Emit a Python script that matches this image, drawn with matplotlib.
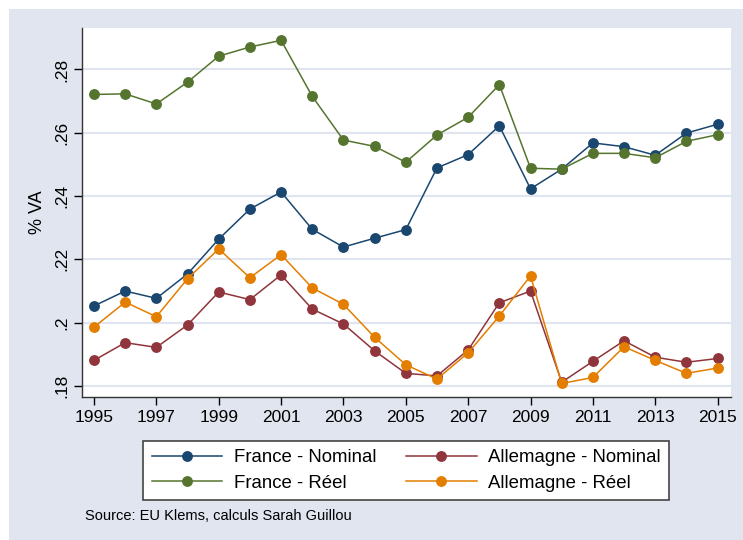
import matplotlib
matplotlib.use("Agg")
import matplotlib.pyplot as plt
from matplotlib.patches import Rectangle

plt.rcParams['font.family'] = ['Liberation Sans', 'DejaVu Sans']

years = list(range(1995, 2016))
france_nominal = [0.2053, 0.2100, 0.2077, 0.2154, 0.2264, 0.2359, 0.2413, 0.2295, 0.2239, 0.2267,
                  0.2294, 0.2489, 0.2531, 0.2622, 0.2423, 0.2485, 0.2568, 0.2556, 0.2529, 0.2599, 0.2627]
france_reel = [0.2721, 0.2723, 0.2691, 0.2760, 0.2842, 0.2871, 0.2892, 0.2715, 0.2577, 0.2557,
               0.2507, 0.2593, 0.2649, 0.2752, 0.2488, 0.2485, 0.2535, 0.2535, 0.2521, 0.2573, 0.2594]
allemagne_nominal = [0.1881, 0.1937, 0.1922, 0.1993, 0.2097, 0.2073, 0.2151, 0.2043, 0.1996, 0.1911,
                     0.1840, 0.1832, 0.1914, 0.2063, 0.2100, 0.1812, 0.1878, 0.1943, 0.1891, 0.1875, 0.1887]
allemagne_reel = [0.1986, 0.2065, 0.2019, 0.2139, 0.2233, 0.2142, 0.2215, 0.2110, 0.2058, 0.1954,
                  0.1867, 0.1822, 0.1905, 0.2021, 0.2148, 0.1808, 0.1827, 0.1924, 0.1881, 0.1840, 0.1857]

yticks = [0.18, 0.20, 0.22, 0.24, 0.26, 0.28]
ytick_labels = [".18", ".2", ".22", ".24", ".26", ".28"]
xticks = list(range(1995, 2016, 2))

W, H = 743, 540
fig = plt.figure(figsize=(W / 100, H / 100), dpi=100)
fig.patch.set_facecolor('white')
# light bluish-gray graph region, behind the axes
fig.add_artist(Rectangle((9 / W, 0), 1 - 9 / W, 1 - 9 / H, transform=fig.transFigure,
                         facecolor='#E0E5EF', edgecolor='none', zorder=-10))

ax = fig.add_axes([82 / W, 1 - 397 / H, (731 - 82) / W, (397 - 28) / H])
ax.set_facecolor('white')

series = [
    (france_nominal, '#1A476F', 'France - Nominal'),
    (allemagne_nominal, '#90353B', 'Allemagne - Nominal'),
    (france_reel, '#55752F', 'France - Réel'),
    (allemagne_reel, '#E37E00', 'Allemagne - Réel'),
]
handles = {}
for vals, col, lab in series:
    h, = ax.plot(years, vals, color=col, lw=1.1, marker='o', ms=6.8, mec=col, mfc=col,
                 label=lab, zorder=3)
    handles[lab] = h

ax.set_xlim(1994.615, 2015.43)
ax.set_ylim(0.17653, 0.2931)
ax.set_yticks(yticks)
ax.set_yticklabels(ytick_labels, rotation=90, va='center')
ax.set_xticks(xticks)
ax.tick_params(labelsize=12.5, length=6, width=1, colors='black', pad=3)
ax.grid(axis='y', color='#E0E5EF', lw=1.6)
ax.set_axisbelow(True)
for s in ['top', 'right']:
    ax.spines[s].set_visible(False)
for s in ['left', 'bottom']:
    ax.spines[s].set_color('#333333')
    ax.spines[s].set_linewidth(1)
ax.set_ylabel('% VA', fontsize=13, labelpad=6)

# France in the left column, Allemagne in the right one
lb = ['France - Nominal', 'France - Réel', 'Allemagne - Nominal', 'Allemagne - Réel']
hl = [handles[k] for k in lb]
leg = fig.legend(hl, lb, ncol=2, loc='center', bbox_to_anchor=(406 / W, 1 - 470.5 / H),
                 fontsize=13.4, frameon=True, fancybox=False, handlelength=3.8,
                 handletextpad=0.6, columnspacing=1.6, borderpad=0.45, labelspacing=0.45,
                 borderaxespad=0, markerscale=1.0)
leg.get_frame().set_edgecolor('#444444')
leg.get_frame().set_linewidth(1.2)
leg.get_frame().set_facecolor('white')
leg.get_frame().set_alpha(1)

fig.text(85 / W, 1 - 516 / H, 'Source: EU Klems, calculs Sarah Guillou', fontsize=10.5,
         va='center', ha='left')

fig.savefig('out.png', dpi=100)
